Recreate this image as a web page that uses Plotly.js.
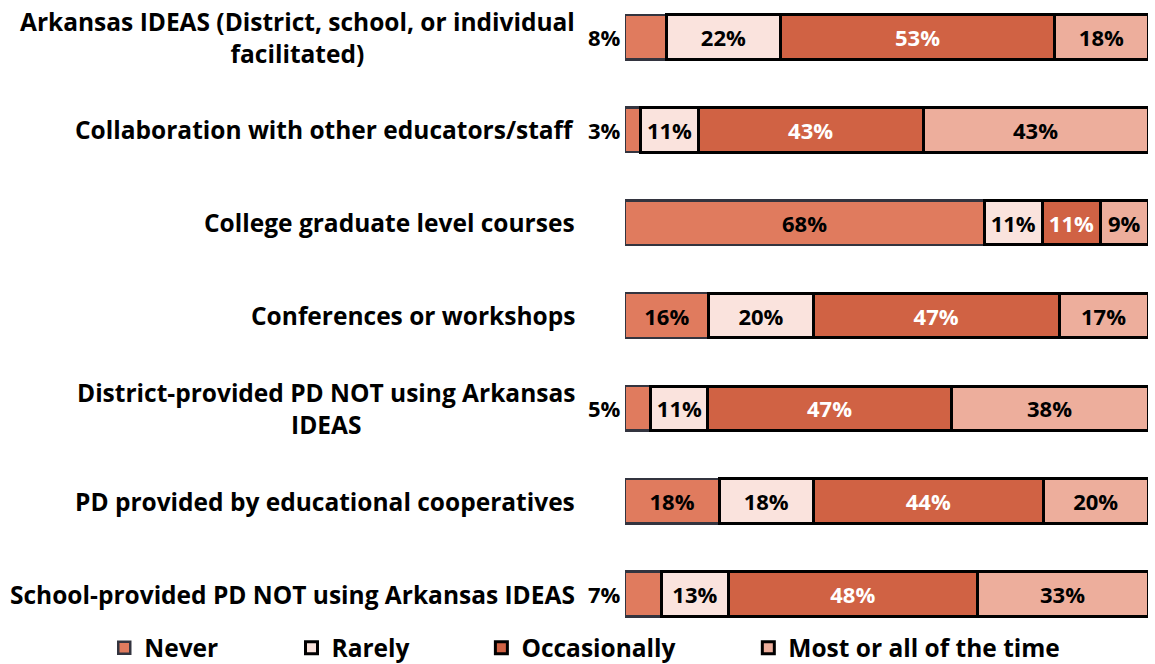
<!DOCTYPE html>
<html>
<head>
<meta charset="utf-8">
<script src="https://cdn.plot.ly/plotly-3.0.1.min.js"></script>
<style>html,body{margin:0;padding:0;background:#fff;}#chart{width:1155px;height:664px;}</style>
</head>
<body>
<div id="chart"></div>
<script>
const categories = [
  "Arkansas IDEAS (District, school, or individual<br>facilitated)",
  "Collaboration with other educators/staff",
  "College graduate level courses",
  "Conferences or workshops",
  "District-provided PD NOT using Arkansas<br>IDEAS",
  "PD provided by educational cooperatives",
  "School-provided PD NOT using Arkansas IDEAS"
];
const seriesNames = ["Never", "Rarely", "Occasionally", "Most or all of the time"];
const never = [8, 3, 68, 16, 5, 18, 7];
const rarely = [22, 11, 11, 20, 11, 18, 13];
const occasionally = [53, 43, 11, 47, 47, 44, 48];
const most = [18, 43, 9, 17, 38, 20, 33];

const fills = ["#E07B5E", "#FAE3DD", "#D06244", "#EDAE9C"];
const borders = ["#33343F", "#000000", "#000000", "#000000"];
const textColors = ["#000000", "#000000", "#FFFFFF", "#000000"];
const FONT = "'Open Sans', Lato, sans-serif";
const FS = 22;
const LFS = 24.5;

const all = [never, rarely, occasionally, most];
const totals = categories.map((c, i) => all.reduce((s, a) => s + a[i], 0));
const yIdx = categories.map((c, i) => i);
const legendIds = ["legend", "legend2", "legend3", "legend4"];
const legendX = [-0.9957, -0.6377, -0.2746, 0.2358];

const traces = all.map((vals, k) => ({
  type: "bar",
  orientation: "h",
  name: seriesNames[k],
  legend: legendIds[k],
  y: yIdx,
  x: vals.map((v, i) => v / totals[i] * 100),
  text: vals.map(v => (k === 0 && v < 10) ? "" : v + "%"),
  textposition: "inside",
  insidetextanchor: "middle",
  constraintext: "none",
  textfont: {family: FONT, size: FS, color: textColors[k], weight: "bold"},
  marker: {color: fills[k], line: {color: borders[k], width: k === 0 ? 2.5 : 3}},
  hoverinfo: "skip"
}));

const annotations = [];
categories.forEach((c, i) => {
  annotations.push({
    xref: "paper", yref: "y", x: -0.092, y: i,
    xanchor: "right", yanchor: "middle", align: "center",
    text: c, showarrow: false,
    font: {family: FONT, size: LFS, color: "#000", weight: "bold"}
  });
  if (never[i] < 10) {
    annotations.push({
      xref: "x", yref: "y", x: 0, y: i, xshift: -2,
      xanchor: "right", yanchor: "middle",
      text: never[i] + "%", showarrow: false,
      font: {family: FONT, size: FS, color: "#000", weight: "bold"}
    });
  }
});

const layout = {
  width: 1155, height: 664,
  margin: {l: 625, r: 7, t: 0, b: 44, autoexpand: false},
  barmode: "stack",
  bargap: 0.52,
  paper_bgcolor: "#fff", plot_bgcolor: "#fff",
  xaxis: {range: [0, 100], visible: false, fixedrange: true},
  yaxis: {type: "linear", range: [6.28, -0.399], showticklabels: false, showgrid: false, zeroline: false, showline: false, ticks: ""},
  showlegend: true,
  annotations: annotations,
  font: {family: FONT}
};
legendIds.forEach((id, k) => {
  layout[id] = {
    orientation: "h", x: legendX[k], xref: "paper", xanchor: "left",
    y: -0.045, yref: "paper", yanchor: "middle",
    bgcolor: "rgba(0,0,0,0)",
    font: {family: FONT, size: LFS, color: "#000", weight: "bold"},
    itemwidth: 30
  };
});

Plotly.newPlot("chart", traces, layout, {displayModeBar: false, staticPlot: true});
</script>
</body>
</html>
